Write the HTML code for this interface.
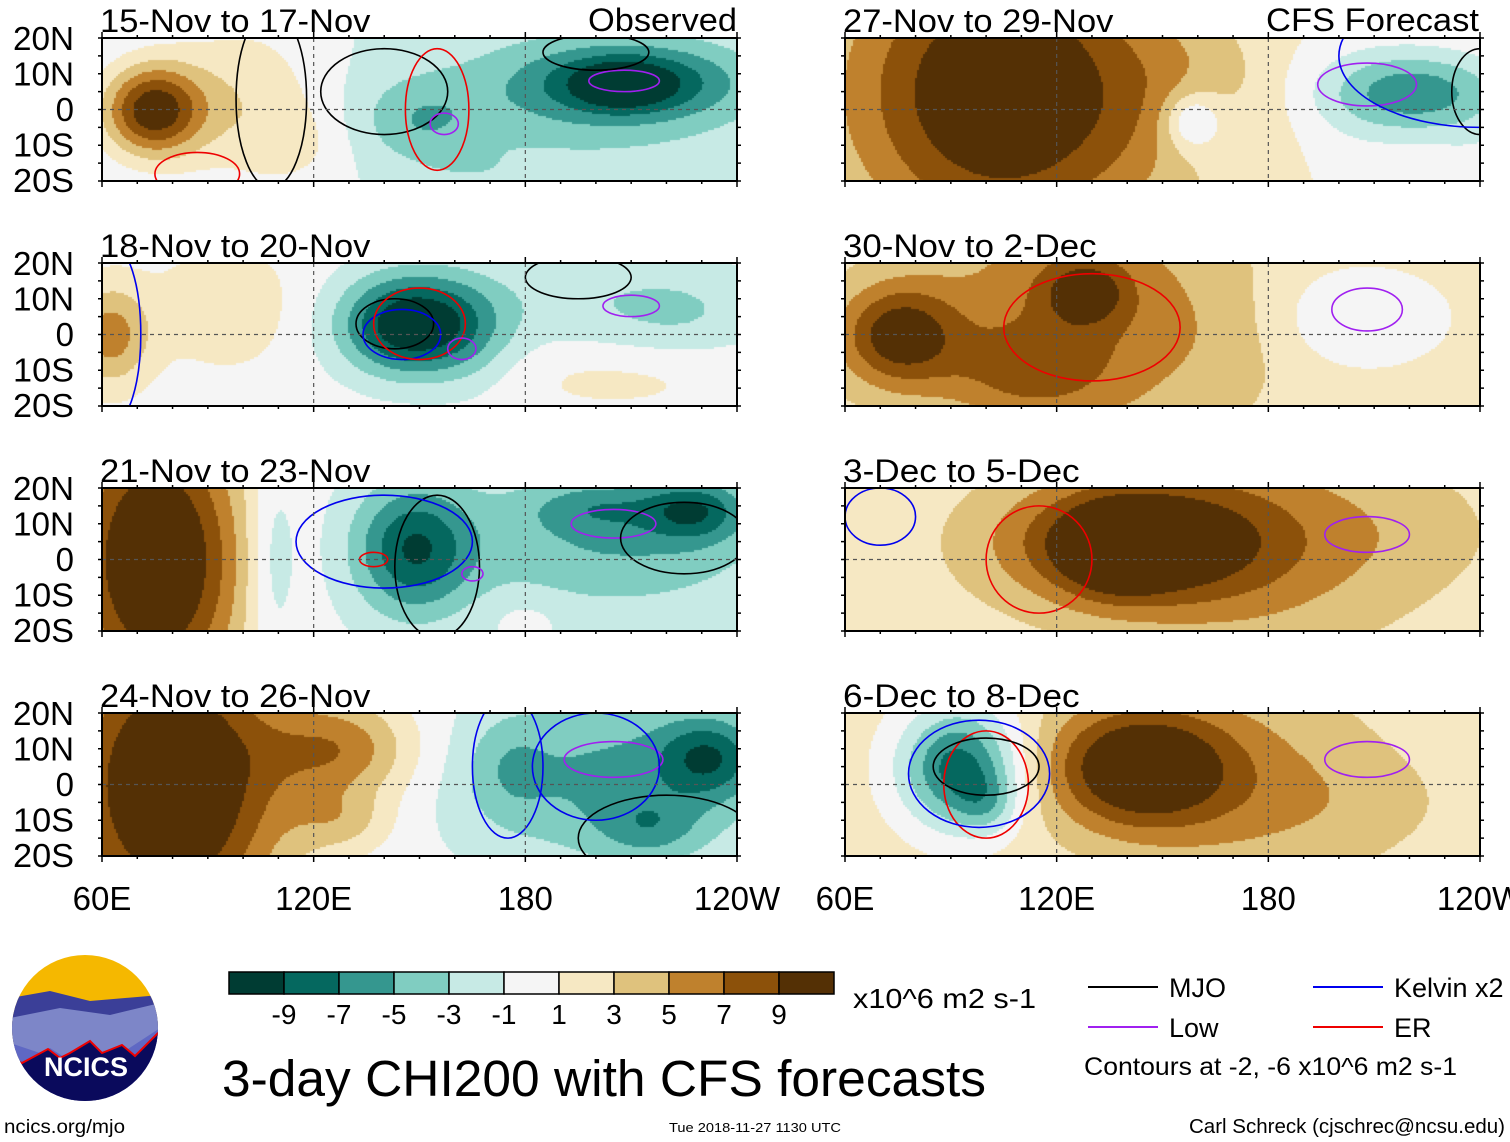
<!DOCTYPE html>
<html><head><meta charset="utf-8">
<style>
body{margin:0;background:#fff;width:1510px;height:1142px;overflow:hidden;position:relative;font-family:"Liberation Sans",sans-serif;}
canvas{position:absolute;}
svg{position:absolute;left:0;top:0;}
</style></head>
<body>
<svg id="ov" width="1510" height="1142"></svg>
<script>
// ----- colour scale data -----
const levels=[-9,-7,-5,-3,-1,1,3,5,7,9];
const colors=["#003c33","#05685f","#35978f","#80cdc1","#c7eae5","#f5f5f5","#f6e8c3","#dfc27d","#bf812d","#8c510a","#543005"];
const latTicks=["20N","10N","0","10S","20S"];
const lonTicks=["60E","120E","180","120W"];
const panelTitles=["15-Nov to 17-Nov","18-Nov to 20-Nov","21-Nov to 23-Nov","24-Nov to 26-Nov","27-Nov to 29-Nov","30-Nov to 2-Dec","3-Dec to 5-Dec","6-Dec to 8-Dec"];
// blobs per panel: [lon, lat, sigmaLon, sigmaLat, amplitude]
const panelBase=[-1,0,-0.5,0,1,2,2,2];
const panelBlobs=[
 [[74,0,10,9,11],[100,3,16,16,3.5],[115,-10,10,8,1.5],[150,-3,12,8,-3],[195,3,35,14,-3],[210,8,20,7,-7],[207,7,8,4,-4],[165,-17,12,4,-1]],
 [[62,0,8,10,6],[95,8,14,12,2.5],[147,3,14,10,-11],[165,0,10,12,-2],[205,10,30,10,-2.5],[225,5,15,8,-1.5],[205,-12,25,7,1.5]],
 [[75,0,18,30,13],[108,0,5,20,-3],[148,3,12,13,-8],[205,5,32,14,-4.5],[228,14,10,6,-6],[200,15,14,5,-3],[180,-15,8,4,1]],
 [[80,0,22,30,13],[128,10,15,10,6],[128,-10,10,6,3],[205,2,32,18,-5.5],[232,8,10,8,-6],[175,5,8,10,-2],[215,-12,10,6,-3]],
 [[105,5,32,30,11],[160,0,15,15,3],[160,-4,10,10,-3.5],[158,-3,5,5,-4],[222,5,18,8,-7],[205,0,15,15,-1],[240,-10,10,8,-1]],
 [[75,0,12,10,8],[125,5,28,25,5],[128,12,8,6,5],[110,-10,15,8,3],[205,5,18,10,-3],[170,0,15,15,1]],
 [[140,5,25,12,9],[137,3,10,8,5],[175,5,30,20,4],[220,8,20,12,1],[90,0,20,20,0]],
 [[92,5,12,12,-10],[100,-5,6,6,-3],[143,5,18,12,10],[175,0,25,20,3],[205,-5,20,10,1]]
];
// contours: [type, lon, lat, rLon, rLat]
const panelContours=[
 [["mjo",108,3,10,25],["mjo",140,5,18,12],["er",155,0,9,17],["er",87,-18,12,6],["low",208,8,10,3],["low",157,-4,4,3],["mjo",200,16,15,5]],
 [["mjo",143,3,11,7],["kelvin",145,0,11,7],["er",150,3,13,10],["low",210,8,8,3],["low",162,-4,4,3],["mjo",195,16,15,6],["kelvin",63,0,8,25]],
 [["mjo",155,-2,12,20],["kelvin",140,5,25,13],["er",137,0,4,2],["low",205,10,12,4],["mjo",225,6,18,10],["low",165,-4,3,2]],
 [["kelvin",175,5,10,20],["low",205,7,14,5],["mjo",220,-15,25,12],["kelvin",200,5,18,15]],
 [["low",208,7,14,6],["mjo",240,5,8,12],["kelvin",240,15,40,20]],
 [["er",130,2,25,15],["low",208,7,10,6]],
 [["er",115,0,15,15],["low",208,7,12,5],["kelvin",70,12,10,8]],
 [["er",100,0,12,15],["mjo",100,5,15,8],["kelvin",98,3,20,15],["low",208,7,12,5]]
];
const typeColor={mjo:"#000",kelvin:"#0000ee",er:"#ee0000",low:"#a020f0"};
</script>
<script>
const ov=document.getElementById('ov');
const NS="http://www.w3.org/2000/svg";
const PW=635,PH=143,lefts=[102,845],tops=[38,263,488,713];
function lonX(x0,lon){return x0+(lon-60)/180*PW;}
function latY(y0,lat){return y0+(20-lat)/40*PH;}
function colorOf(v){let i=0;while(i<levels.length&&v>levels[i])i++;return colors[i];}
function mk(tag,attrs){const e=document.createElementNS(NS,tag);for(const k in attrs)e.setAttribute(k,attrs[k]);ov.appendChild(e);return e;}
function txt(s,x,y,size,anchor,name,len){
 const a={x:x,y:y,'font-size':size,'text-anchor':anchor||'start','font-family':'Liberation Sans, sans-serif'};
 if(len){a.textLength=len;a.lengthAdjust='spacingAndGlyphs';}
 const e=mk('text',a);
 e.textContent=s;
 
 
 return e;}
for(let p=0;p<8;p++){
 const x0=lefts[p<4?0:1],y0=tops[p%4];
 const cv=document.createElement('canvas');cv.width=PW;cv.height=PH;
 cv.style.left=x0+'px';cv.style.top=y0+'px';
 
 
 document.body.insertBefore(cv,ov);
 const c=cv.getContext('2d');const st=2;
 for(let px=0;px<PW;px+=st)for(let py=0;py<PH;py+=st){
  const lon=60+px/PW*180,lat=20-py/PH*40;let v=panelBase[p];
  for(const b of panelBlobs[p]){const dx=(lon-b[0])/b[2],dy=(lat-b[1])/b[3];v+=b[4]*Math.exp(-0.5*(dx*dx+dy*dy));}
  c.fillStyle=colorOf(v);c.fillRect(px,py,st,st);}
 const cp=mk('clipPath',{id:'clip'+p});const r=document.createElementNS(NS,'rect');
 r.setAttribute('x',x0);r.setAttribute('y',y0);r.setAttribute('width',PW);r.setAttribute('height',PH);cp.appendChild(r);
 for(const k of panelContours[p]){
  const e=mk('ellipse',{cx:lonX(x0,k[1]),cy:latY(y0,k[2]),rx:k[3]/180*PW,ry:k[4]/40*PH,fill:'none',stroke:typeColor[k[0]],'stroke-width':1.6,'clip-path':'url(#clip'+p+')'});
  
  }
 const eq=mk('line',{x1:x0,x2:x0+PW,y1:latY(y0,0),y2:latY(y0,0),stroke:'#555','stroke-dasharray':'4,4','stroke-width':1.2});
 
 for(const ln of [120,180]){const g=mk('line',{x1:lonX(x0,ln),x2:lonX(x0,ln),y1:y0,y2:y0+PH,stroke:'#555','stroke-dasharray':'4,4','stroke-width':1.2});
  }
 const fr=mk('rect',{x:x0,y:y0,width:PW,height:PH,fill:'none',stroke:'#000','stroke-width':2});
 
 for(let ln=60;ln<=240;ln+=10){const X=lonX(x0,ln),big=(ln%60==0)?6:3;
  mk('line',{x1:X,x2:X,y1:y0+PH,y2:y0+PH+big,stroke:'#000','stroke-width':1.5});
  mk('line',{x1:X,x2:X,y1:y0,y2:y0-big,stroke:'#000','stroke-width':1.5});}
 for(let lt=-20;lt<=20;lt+=5){const Y=latY(y0,lt);
  mk('line',{x1:x0,x2:x0-4,y1:Y,y2:Y,stroke:'#000','stroke-width':1.5});
  mk('line',{x1:x0+PW,x2:x0+PW+4,y1:Y,y2:Y,stroke:'#000','stroke-width':1.5});}
 const t=panelTitles[p];
 txt(t,x0-2,y0-6,32,'start','panel-title',t.length*16.9);
 if(p<4){latTicks.forEach((s,i)=>txt(s,74,y0+12+i*35.5,33,'end','lat-label',s.length==1?null:61));}
}
txt("Observed",737,31,32,'end','observed-label',149);
txt("CFS Forecast",1479,31,32,'end','forecast-label',213);
for(const x0 of lefts){lonTicks.forEach((s,i)=>txt(s,x0+i*PW/3,910,33,'middle','lon-label'));}
for(let i=0;i<colors.length;i++){const r=mk('rect',{x:229+i*55,y:972,width:55,height:22,fill:colors[i],stroke:'#000','stroke-width':1.5});
 }
levels.forEach((l,i)=>txt(String(l),284+i*55,1024,28,'middle','colorbar-label'));
txt("x10^6 m2 s-1",853,1008,28,'start','units-label',183);
txt("3-day CHI200 with CFS forecasts",222,1096,51,'start','main-title',764);
const leg=[["mjo","MJO",1088,987],["low","Low",1088,1027],["kelvin","Kelvin x2",1313,987],["er","ER",1313,1027]];
for(const L of leg){const l=mk('line',{x1:L[2],x2:L[2]+70,y1:L[3],y2:L[3],stroke:typeColor[L[0]],'stroke-width':2});
 
 txt(L[1],L[2]+81,L[3]+10,27,'start','legend-label');}
txt("Contours at -2, -6 x10^6 m2 s-1",1084,1075,25,'start','contour-note',373);
txt("ncics.org/mjo",4,1133,19,'start','url-label',121);
txt("Tue 2018-11-27 1130 UTC",669,1132,13,'start','timestamp',172);
txt("Carl Schreck (cjschrec@ncsu.edu)",1505,1133,20,'end','credit',316);
</script>
<svg width="150" height="150" style="left:10px;top:953px">
<defs><clipPath id="lc"><circle cx="75" cy="75" r="73"/></clipPath></defs>
<g clip-path="url(#lc)">
<rect width="150" height="150" fill="#f5b800"/>
<path d="M0 45 L40 38 L80 48 L150 42 L150 150 L0 150Z" fill="#3b3f98"/>
<path d="M0 65 L50 55 L100 62 L150 50 L150 150 L0 150Z" fill="#7d86c8"/>
<path d="M0 90 L30 100 L40 95 L60 108 L80 90 L100 105 L115 98 L150 75 L150 150 L0 150Z" fill="#5f68c4"/>
<path d="M0 105 L12 110 L38 96 L50 105 L60 100 L80 88 L92 100 L112 92 L125 103 L150 78 L150 150 L0 150Z" fill="#0a0a5c" stroke="#e00" stroke-width="2"/>
</g>
<text x="76" y="123" font-size="27" font-weight="bold" fill="#fff" text-anchor="middle" font-family="Liberation Sans, sans-serif">NCICS</text>
</svg>
</body></html>
